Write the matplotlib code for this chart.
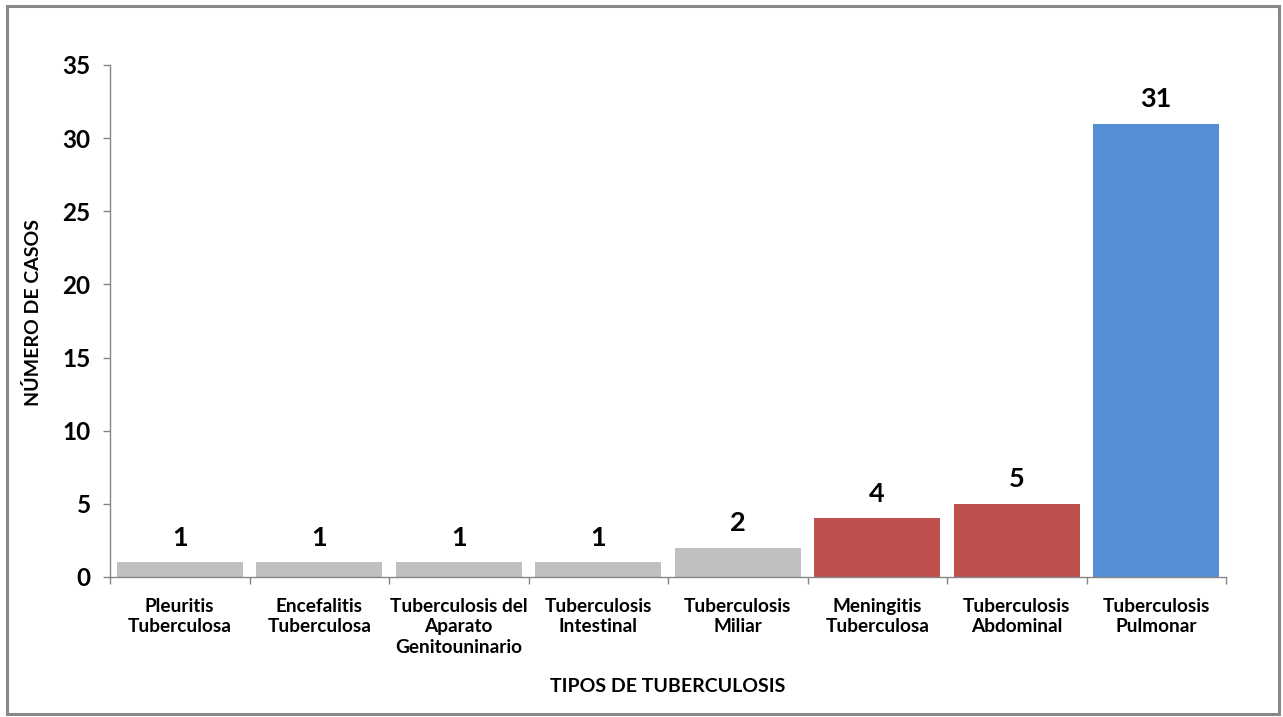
import matplotlib
matplotlib.use("Agg")
import matplotlib.pyplot as plt
from matplotlib.patches import Rectangle
import numpy as np

plt.rcParams['font.family'] = ['Lato', 'DejaVu Sans']
plt.rcParams['font.weight'] = 'bold'

categories = [
    "Pleuritis\nTuberculosa",
    "Encefalitis\nTuberculosa",
    "Tuberculosis del\nAparato\nGenitouninario",
    "Tuberculosis\nIntestinal",
    "Tuberculosis\nMiliar",
    "Meningitis\nTuberculosa",
    "Tuberculosis\nAbdominal",
    "Tuberculosis\nPulmonar",
]
cases = [1, 1, 1, 1, 2, 4, 5, 31]
bar_colors = ["#BFBFBF", "#BFBFBF", "#BFBFBF", "#BFBFBF", "#BFBFBF",
              "#C0504D", "#C0504D", "#558ED5"]
y_ticks = [0, 5, 10, 15, 20, 25, 30, 35]

fig = plt.figure(figsize=(12.83, 7.17), dpi=100)
ax = fig.add_axes([110 / 1283, 1 - 577 / 717, 1116 / 1283, 512 / 717])

x = np.arange(len(categories))
bars = ax.bar(x, cases, width=0.9, color=bar_colors, zorder=2)

for xi, v in zip(x, cases):
    ax.annotate(str(v), (xi, v), xytext=(0, 9), textcoords="offset points",
                ha="center", va="bottom", fontsize=19.5, fontweight="bold",
                color="black")

ax.set_xlim(-0.5, len(categories) - 0.5)
ax.set_ylim(0, 35)
ax.set_yticks(y_ticks)
ax.set_yticklabels([str(t) for t in y_ticks], fontsize=17.5, fontweight="bold")
ax.set_xticks(x)
ax.set_xticklabels(categories, fontsize=13.7, fontweight="bold",
                   linespacing=1.25, va="top")
ax.set_xticks(np.arange(-0.5, len(categories), 1.0), minor=True)

ax.tick_params(axis="x", which="major", length=0, pad=15)
ax.tick_params(axis="x", which="minor", length=5, width=1, color="#868686",
               direction="out")
ax.tick_params(axis="y", which="major", length=5, width=1, color="#868686",
               direction="out", pad=9)

for side in ("top", "right"):
    ax.spines[side].set_visible(False)
for side in ("left", "bottom"):
    ax.spines[side].set_color("#868686")
    ax.spines[side].set_linewidth(1.0)

ax.set_xlabel("TIPOS DE TUBERCULOSIS", fontsize=14, fontweight="bold")
ax.xaxis.set_label_coords((668 - 110) / 1116, -(687 - 577) / 512)
ax.set_ylabel("NÚMERO DE CASOS", fontsize=14, fontweight="bold")
ax.yaxis.set_label_coords(-(110 - 33) / 1116, (577 - 313) / 512)
ax.xaxis.label.set_va("center")
ax.yaxis.label.set_va("center")

# outer frame of the chart area
fig.patches.append(Rectangle((7 / 1283, 1 - 714 / 717), 1272 / 1283, 708 / 717,
                             transform=fig.transFigure, fill=False,
                             edgecolor="#898989", linewidth=2.2))

fig.savefig("out.png", dpi=100)
